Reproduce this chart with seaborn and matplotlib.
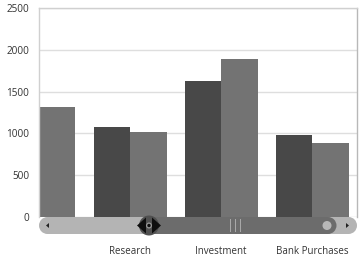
import matplotlib
matplotlib.use("Agg")
import matplotlib.pyplot as plt
import seaborn as sns
import pandas as pd
import numpy as np
from matplotlib.patches import Circle, Polygon, Rectangle, Ellipse

# ---- data ----
categories = ["Marketing", "Research", "Investment", "Bank Purchases"]
series_names = ["2014", "2015"]
values_2014 = [np.nan, 1080, 1630, 975]
values_2015 = [1320, 1020, 1895, 880]
y_ticks = [0, 500, 1000, 1500, 2000, 2500]
visible_labels = ["", "Research", "Investment", "Bank Purchases"]

df = pd.DataFrame({
    "category": categories * 2,
    "series": [series_names[0]] * 4 + [series_names[1]] * 4,
    "value": values_2014 + values_2015,
})

sns.set_theme(style="white")
plt.rcParams["font.family"] = ["Open Sans", "DejaVu Sans"]

fig = plt.figure(figsize=(3.64, 2.63), dpi=100)
ax = fig.add_axes([39/364, 1 - 217/263, (357-39)/364, (217-8)/263])

sns.barplot(data=df, x="category", y="value", hue="series",
            palette=["#484848", "#737373"], width=0.8, saturation=1,
            edgecolor="none", ax=ax, legend=False, order=categories)

ax.set_xlim(0.016, 3.49)
ax.set_ylim(0, 2500)
ax.set_yticks(y_ticks)
ax.set_yticklabels([str(t) for t in y_ticks])
ax.set_xticks(range(len(categories)))
ax.set_xticklabels(visible_labels)
ax.set_xlabel("")
ax.set_ylabel("")
ax.grid(axis="y", color="#dedede", linewidth=1)
ax.set_axisbelow(True)
for s in ["left", "top"]:
    ax.spines[s].set_color("#d0d0d0")
    ax.spines[s].set_linewidth(1)
ax.spines["right"].set_color("#b8b8b8")
ax.spines["right"].set_linewidth(1)
ax.spines["bottom"].set_visible(False)
ax.tick_params(axis="y", length=0, pad=7, labelsize=7.2, labelcolor="#333333")
ax.tick_params(axis="x", length=0, pad=21, labelsize=7, labelcolor="#333333")

# ---- scrollbar (decoration) ----
W, H = 364, 263
def fx(x): return x / W
def fy(y): return 1 - y / H

track_h = 17
ty0 = 234
cy = 225.5
fig.add_artist(Rectangle((fx(39+8), fy(ty0)), fx(357-39-16), track_h/H,
                         transform=fig.transFigure, facecolor="#b4b4b4", edgecolor="none"))
for cx in (47.5, 348.5):
    fig.add_artist(Ellipse((fx(cx), fy(cy)), 17/W, 17/H, transform=fig.transFigure,
                           facecolor="#b4b4b4", edgecolor="none"))
# thumb
fig.add_artist(Rectangle((fx(148), fy(ty0)), fx(328 - 148), track_h/H,
                         transform=fig.transFigure, facecolor="#6c6c6c", edgecolor="none"))
fig.add_artist(Ellipse((fx(328), fy(cy)), 17/W, 17/H, transform=fig.transFigure,
                       facecolor="#6c6c6c", edgecolor="none"))
# right circle knob
fig.add_artist(Ellipse((fx(327), fy(cy)), 9/W, 9/H, transform=fig.transFigure,
                       facecolor="#b8b8b8", edgecolor="none"))
# grip lines
for gx in (230, 235, 240):
    fig.add_artist(Rectangle((fx(gx), fy(232)), fx(1.2), 13/H, transform=fig.transFigure,
                             facecolor="#a8a8a8", edgecolor="none"))
# left handle: dark disc, arrows, dot
cxh = 149
fig.add_artist(Ellipse((fx(cxh), fy(cy)), 20/W, 20/H, transform=fig.transFigure,
                       facecolor="#505050", edgecolor="none"))
fig.add_artist(Polygon([(fx(cxh-3), fy(cy-8)), (fx(cxh-12), fy(cy)), (fx(cxh-3), fy(cy+8))],
                       transform=fig.transFigure, facecolor="#0e0e0e", edgecolor="none"))
fig.add_artist(Polygon([(fx(cxh+3), fy(cy-8)), (fx(cxh+12), fy(cy)), (fx(cxh+3), fy(cy+8))],
                       transform=fig.transFigure, facecolor="#0e0e0e", edgecolor="none"))
fig.add_artist(Ellipse((fx(cxh), fy(cy)), 6/W, 6/H, transform=fig.transFigure,
                       facecolor="#9a9a9a", edgecolor="none"))
fig.add_artist(Ellipse((fx(cxh), fy(cy)), 3.5/W, 3.5/H, transform=fig.transFigure,
                       facecolor="#111111", edgecolor="none"))
# arrows at ends
fig.add_artist(Polygon([(fx(49), fy(223)), (fx(46), fy(225.5)), (fx(49), fy(228))],
                       transform=fig.transFigure, facecolor="#222222", edgecolor="none"))
fig.add_artist(Polygon([(fx(346), fy(223)), (fx(349), fy(225.5)), (fx(346), fy(228))],
                       transform=fig.transFigure, facecolor="#222222", edgecolor="none"))

fig.savefig("out.png", dpi=100)
